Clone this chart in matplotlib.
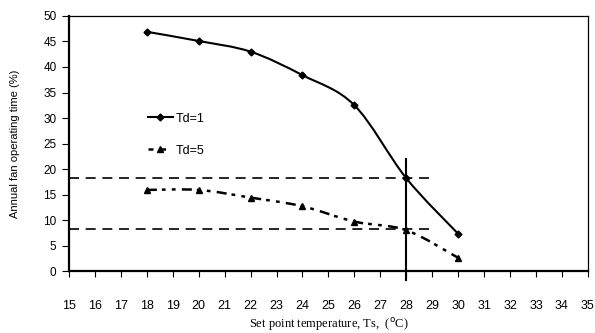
import numpy as np
import matplotlib.pyplot as plt
from matplotlib.path import Path
from matplotlib.patches import PathPatch
from matplotlib.lines import Line2D

# set point temperature (deg C)
ts = [18, 20, 22, 24, 26, 28, 30]
# annual fan operating time (%)
td1 = [46.9, 45.1, 43.0, 38.4, 32.5, 18.2, 7.3]
td5 = [15.9, 15.9, 14.4, 12.7, 9.7, 8.0, 2.6]

xticks = list(range(15, 36))
yticks = list(range(0, 51, 5))

ref_y = [18.2, 8.2]
ref_x_end = 29
ref_ts = 28


def smooth_path(x, y):
    # Excel-style smoothed line: Catmull-Rom converted to cubic Bezier
    x = np.asarray(x, float)
    y = np.asarray(y, float)
    verts = [(x[0], y[0])]
    codes = [Path.MOVETO]
    n = len(x)
    for i in range(n - 1):
        p0 = (x[max(i - 1, 0)], y[max(i - 1, 0)])
        p1 = (x[i], y[i])
        p2 = (x[i + 1], y[i + 1])
        p3 = (x[min(i + 2, n - 1)], y[min(i + 2, n - 1)])
        c1 = (p1[0] + (p2[0] - p0[0]) / 6, p1[1] + (p2[1] - p0[1]) / 6)
        c2 = (p2[0] - (p3[0] - p1[0]) / 6, p2[1] - (p3[1] - p1[1]) / 6)
        verts += [c1, c2, p2]
        codes += [Path.CURVE4] * 3
    return Path(verts, codes)


plt.rcParams['font.family'] = ['Liberation Sans', 'DejaVu Sans']

fig = plt.figure(figsize=(5.95, 3.33), dpi=100)
ax = fig.add_axes([0.116, 0.186, 0.872, 0.766])

ax.set_xlim(15, 35)
ax.set_ylim(0, 50)

# reference lines
for yv in ref_y:
    ax.plot([15, ref_x_end], [yv, yv], color='black', lw=1.2,
            dashes=(6, 4), clip_on=False)
ax.plot([ref_ts, ref_ts], [-1.8, 22], color='black', lw=1.5, clip_on=False)

# Td=1
ax.add_patch(PathPatch(smooth_path(ts, td1), fill=False, ec='black', lw=1.5))
ax.plot(ts, td1, ls='none', marker='D', ms=3.5, color='black')

# Td=5
dash5 = (4, 2, 1.5, 2.5, 1.5, 2.5)
p5 = PathPatch(smooth_path(ts, td5), fill=False, ec='black', lw=1.8)
p5.set_linestyle((0, dash5))
ax.add_patch(p5)
ax.plot(ts, td5, ls='none', marker='^', ms=5, color='black')

# legend
h1 = Line2D([], [], color='black', lw=1.5, marker='D', ms=3.5)
h2 = Line2D([], [], color='black', lw=1.8, dashes=(2, 3), marker='^', ms=5)
ax.legend([h1, h2], ['Td=1', 'Td=5'], loc='upper left',
          bbox_to_anchor=(0.135, 0.655), frameon=False, fontsize=9,
          handlelength=2.0, handletextpad=0.2, labelspacing=1.6,
          borderpad=0.2)

ax.set_xticks(xticks)
ax.set_yticks(yticks)
ax.tick_params(axis='x', direction='out', length=4.5, pad=16, labelsize=9)
ax.tick_params(axis='y', direction='out', length=5, pad=4, labelsize=8.5)

for s in ['left', 'bottom']:
    ax.spines[s].set_linewidth(1.6)
for s in ['top', 'right']:
    ax.spines[s].set_linewidth(0.9)

ax.set_ylabel('Annual fan operating time (%)', fontsize=8, labelpad=17)
ax.set_xlabel(r'Set point temperature, Ts,  ($^{\mathrm{o}}$C)',
              fontsize=9, family=['Liberation Serif', 'DejaVu Serif'],
              labelpad=3)

fig.savefig('out.png', dpi=100, facecolor='w')
